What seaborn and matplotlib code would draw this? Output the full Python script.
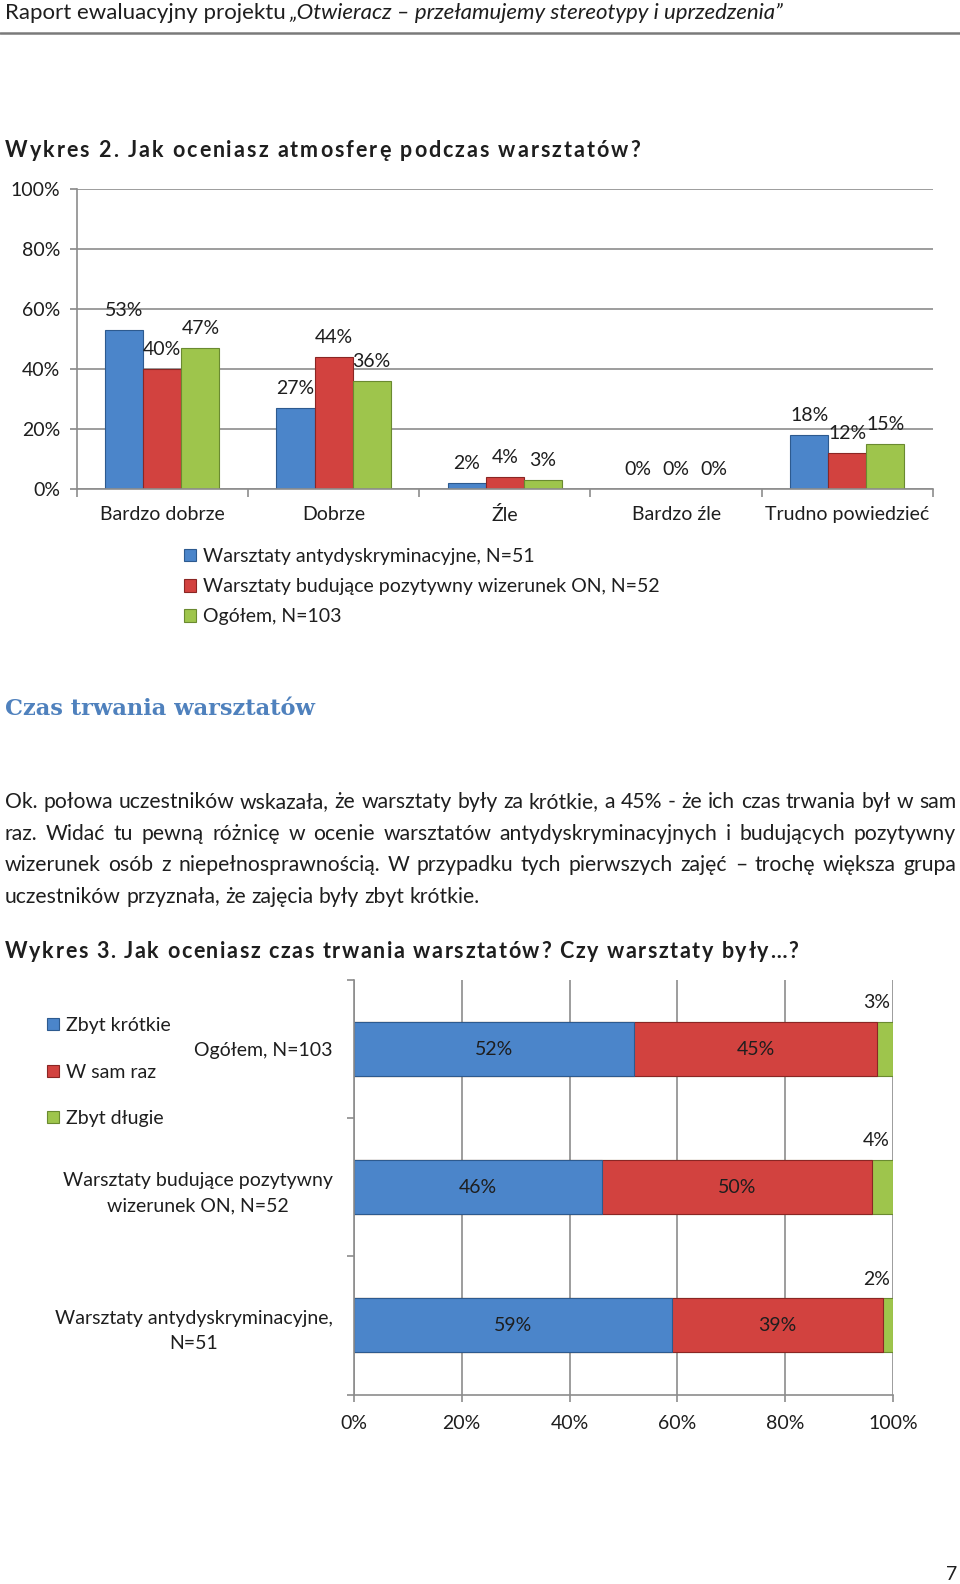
import numpy as np
import pandas as pd
import matplotlib
matplotlib.use('Agg')
import matplotlib.pyplot as plt
import seaborn as sns
from matplotlib.patches import Patch
from matplotlib.lines import Line2D
from matplotlib.font_manager import FontProperties, findfont, get_font

W, H, DPI = 960, 1584, 100

# ---------------- Wykres 2 data ----------------
kategorie_atmosfera = ['Bardzo dobrze', 'Dobrze', 'Źle', 'Bardzo źle', 'Trudno powiedzieć']
serie_atmosfera = ['Warsztaty antydyskryminacyjne, N=51',
                   'Warsztaty budujące pozytywny wizerunek ON, N=52',
                   'Ogółem, N=103']
antydyskryminacyjne = [53, 27, 2, 0, 18]
budujace = [40, 44, 4, 0, 12]
ogolem = [47, 36, 3, 0, 15]
procenty_y = [0, 20, 40, 60, 80, 100]
etykiety_y = ['0%', '20%', '40%', '60%', '80%', '100%']

# ---------------- Wykres 3 data ----------------
grupy_czas = ['Ogółem, N=103',
              'Warsztaty budujące pozytywny\nwizerunek ON, N=52',
              'Warsztaty antydyskryminacyjne,\nN=51']
serie_czas = ['Zbyt krótkie', 'W sam raz', 'Zbyt długie']
zbyt_krotkie = [52, 46, 59]
w_sam_raz = [45, 50, 39]
zbyt_dlugie = [3, 4, 2]
procenty_x = [0, 20, 40, 60, 80, 100]
etykiety_x = ['0%', '20%', '40%', '60%', '80%', '100%']

# ---------------- page texts ----------------
naglowek_1 = 'Raport ewaluacyjny projektu'
naglowek_2 = '„Otwieracz – przełamujemy stereotypy i uprzedzenia”'
tytul_2 = 'Wykres 2. Jak oceniasz atmosferę podczas warsztatów?'
sekcja = 'Czas trwania warsztatów'
akapit = ['Ok. połowa uczestników wskazała, że warsztaty były za krótkie, a 45% - że ich czas trwania był w sam',
          'raz. Widać tu pewną różnicę w ocenie warsztatów antydyskryminacyjnych i budujących pozytywny',
          'wizerunek osób z niepełnosprawnością. W przypadku tych pierwszych zajęć – trochę większa grupa',
          'uczestników przyznała, że zajęcia były zbyt krótkie.']
tytul_3 = 'Wykres 3. Jak oceniasz czas trwania warsztatów? Czy warsztaty były…?'
strona = '7'

BLUE, RED, GREEN = '#4b85ca', '#d2423f', '#9ec54c'
EDGE = {BLUE: '#2d5a8f', RED: '#8a2624', GREEN: '#6a8a30'}
GRID = '#8c8c8c'
TXT = '#1e1e1e'
FONT = ['Lato', 'DejaVu Sans']

sns.set_theme(style='white')
plt.rcParams['font.family'] = FONT
HF = plt.rcParams['text.hinting_factor']

fig = plt.figure(figsize=(W / DPI, H / DPI), dpi=DPI)
fig.patch.set_facecolor('white')


def fx(x):
    return x / W


def fy(y):
    return 1 - y / H


def _font(family, size, weight='normal', style='normal'):
    fp = FontProperties(family=family, size=size, weight=weight, style=style)
    f = get_font(findfont(fp))
    f.set_size(size, DPI)
    return f


def str_width(s, family, size, weight='normal', style='normal'):
    f = _font(family, size, weight, style)
    f.set_text(s, 0.0)
    return f.get_width_height()[0] / 64


def adv(ch, family, size, weight='normal', style='normal'):
    f = _font(family, size, weight, style)
    return f.load_char(ord(ch)).horiAdvance / 64 / HF


def spaced_text(x0, x1, yb, s, family, size, weight='bold', color=TXT):
    advs = [adv(c, family, size, weight) for c in s]
    extra = (x1 - x0 - sum(advs)) / (len(s) - 1)
    x = x0
    for c, a in zip(s, advs):
        if c != ' ':
            fig.text(fx(x), fy(yb), c, family=family, size=size, weight=weight,
                     color=color, ha='left', va='baseline')
        x += a + extra


def justify_line(x0, x1, yb, line, family, size, justify=True, color=TXT):
    words = line.split(' ')
    widths = [str_width(w_, family, size) for w_ in words]
    sp = adv(' ', family, size)
    gap = (x1 - x0 - sum(widths)) / (len(words) - 1) if justify else sp
    x = x0
    for w_, wd in zip(words, widths):
        fig.text(fx(x), fy(yb), w_, family=family, size=size, color=color,
                 ha='left', va='baseline')
        x += wd + gap


# ---------------- header ----------------
fam = 'Lato'
w1 = str_width(naglowek_1, fam, 12)
sp = adv(' ', fam, 12)
w2 = str_width(naglowek_2, fam, 12, style='italic')
scale = (781 - 5) / (w1 + sp + w2)
hs = 12 * scale
fig.text(fx(5), fy(19), naglowek_1, family=FONT, size=hs, color=TXT, ha='left', va='baseline')
fig.text(fx(5 + (w1 + sp) * scale), fy(19), naglowek_2, family=FONT, size=hs, style='italic',
         color=TXT, ha='left', va='baseline')
fig.add_artist(Line2D([0, 1], [fy(33), fy(33)], color='#7a7a7a', lw=1.8))

# ---------------- titles and paragraph ----------------
spaced_text(5, 640, 157, tytul_2, 'Lato', 15.5)
spaced_text(5, 798, 957.5, tytul_3, 'Lato', 15.5)

sw = str_width(sekcja, 'DejaVu Serif', 16, weight='bold')
fig.text(fx(5), fy(715), sekcja, family='DejaVu Serif', weight='bold', size=16 * 311 / sw,
         color='#4f81bd', ha='left', va='baseline')

pw = str_width(akapit[3], fam, 12)
psize = 12 * (479 - 5) / pw
for i, (line, yb) in enumerate(zip(akapit, [808, 839.5, 871, 903])):
    justify_line(5, 956, yb, line, fam, psize, justify=(i < 3))

fig.text(fx(957), fy(1580), strona, size=14, color=TXT, ha='right', va='baseline')

# ---------------- Wykres 2: grouped bars ----------------
ax1 = fig.add_axes([fx(76.7), fy(489.3), (933 - 76.7) / W, 300 / H])
df1 = pd.DataFrame({
    'kategoria': kategorie_atmosfera * 3,
    'seria': np.repeat(serie_atmosfera, len(kategorie_atmosfera)),
    'procent': antydyskryminacyjne + budujace + ogolem,
})
sns.barplot(data=df1, x='kategoria', y='procent', hue='seria', order=kategorie_atmosfera,
            hue_order=serie_atmosfera, palette=[BLUE, RED, GREEN], width=0.667, gap=0,
            saturation=1, errorbar=None, legend=False, ax=ax1, linewidth=0.8)
for cont, kolor, vals in zip(ax1.containers, [BLUE, RED, GREEN],
                             [antydyskryminacyjne, budujace, ogolem]):
    for p in cont:
        p.set_edgecolor(EDGE[kolor])
    ax1.bar_label(cont, labels=[f'{v}%' for v in vals], padding=8, fontsize=14, color=TXT)

ax1.set_ylim(0, 100)
ax1.set_yticks(procenty_y, etykiety_y)
ax1.set_xlabel('')
ax1.set_ylabel('')
ax1.yaxis.grid(True, color=GRID, lw=1.2)
ax1.set_axisbelow(True)
for s in ['top', 'right']:
    ax1.spines[s].set_visible(False)
for s in ['left', 'bottom']:
    ax1.spines[s].set_color(GRID)
    ax1.spines[s].set_linewidth(1.2)
ax1.tick_params(axis='y', left=True, length=5, color=GRID, pad=7, labelsize=14, labelcolor=TXT)
ax1.tick_params(axis='x', which='major', bottom=False, length=0, pad=12, labelsize=14, labelcolor=TXT)
ax1.set_xticks(np.arange(-0.5, len(kategorie_atmosfera), 1), minor=True)
ax1.tick_params(axis='x', which='minor', bottom=True, length=6, color=GRID, width=1.2)
ax1.set_xlim(-0.5, len(kategorie_atmosfera) - 0.5)

h1 = [Patch(facecolor=c, edgecolor=EDGE[c], lw=0.8) for c in [BLUE, RED, GREEN]]
fig.legend(h1, serie_atmosfera, loc='upper left', bbox_to_anchor=(fx(184), fy(548)),
           frameon=False, fontsize=14, handlelength=0.6, handleheight=0.6, handletextpad=0.4,
           labelspacing=0.68, borderpad=0, borderaxespad=0, labelcolor=TXT)

# ---------------- Wykres 3: stacked horizontal bars ----------------
ax2 = fig.add_axes([fx(353.7), fy(1394.5), (893.3 - 353.7) / W, (1394.5 - 980) / H])
df2 = pd.DataFrame({'grupa': grupy_czas, 'krotkie': zbyt_krotkie,
                    'sam_raz': w_sam_raz, 'dlugie': zbyt_dlugie})
df2['do_sam_raz'] = df2['krotkie'] + df2['sam_raz']
df2['do_dlugie'] = df2['do_sam_raz'] + df2['dlugie']
for col, kolor in [('do_dlugie', GREEN), ('do_sam_raz', RED), ('krotkie', BLUE)]:
    sns.barplot(data=df2, x=col, y='grupa', order=grupy_czas, color=kolor, orient='h',
                width=0.39, saturation=1, errorbar=None, ax=ax2,
                edgecolor=EDGE[kolor], linewidth=0.8)

for i, row in df2.iterrows():
    ax2.text(row['krotkie'] / 2, i, f"{row['krotkie']}%", ha='center', va='center',
             fontsize=14, color=TXT)
    ax2.text(row['krotkie'] + row['sam_raz'] / 2, i, f"{row['sam_raz']}%", ha='center',
             va='center', fontsize=14, color=TXT)
    ax2.text(99.4, i - 0.335, f"{row['dlugie']}%", ha='right', va='center',
             fontsize=14, color=TXT)

ax2.set_xlim(0, 100)
ax2.set_ylim(len(grupy_czas) - 0.5, -0.5)
ax2.set_xticks(procenty_x, etykiety_x)
ax2.set_xlabel('')
ax2.set_ylabel('')
ax2.xaxis.grid(True, color=GRID, lw=1.2)
ax2.set_axisbelow(True)
for s in ['top', 'right']:
    ax2.spines[s].set_visible(False)
for s in ['left', 'bottom']:
    ax2.spines[s].set_color(GRID)
    ax2.spines[s].set_linewidth(1.2)
ax2.tick_params(axis='x', bottom=True, length=5, color=GRID, width=1.2, pad=10,
                labelsize=14, labelcolor=TXT)
ax2.tick_params(axis='y', which='major', left=False, length=0, pad=15, labelsize=14,
                labelcolor=TXT)
ax2.set_yticks(np.arange(-0.5, len(grupy_czas), 1), minor=True)
ax2.tick_params(axis='y', which='minor', left=True, length=5, color=GRID, width=1.2)
for t in ax2.get_yticklabels():
    t.set_multialignment('center')
    t.set_linespacing(1.6)

h2 = [Patch(facecolor=c, edgecolor=EDGE[c], lw=0.8) for c in [BLUE, RED, GREEN]]
fig.legend(h2, serie_czas, loc='upper left', bbox_to_anchor=(fx(47), fy(1017)),
           frameon=False, fontsize=14, handlelength=0.6, handleheight=0.6, handletextpad=0.4,
           labelspacing=1.52, borderpad=0, borderaxespad=0, labelcolor=TXT)

fig.savefig('out.png', dpi=DPI, facecolor='white')
